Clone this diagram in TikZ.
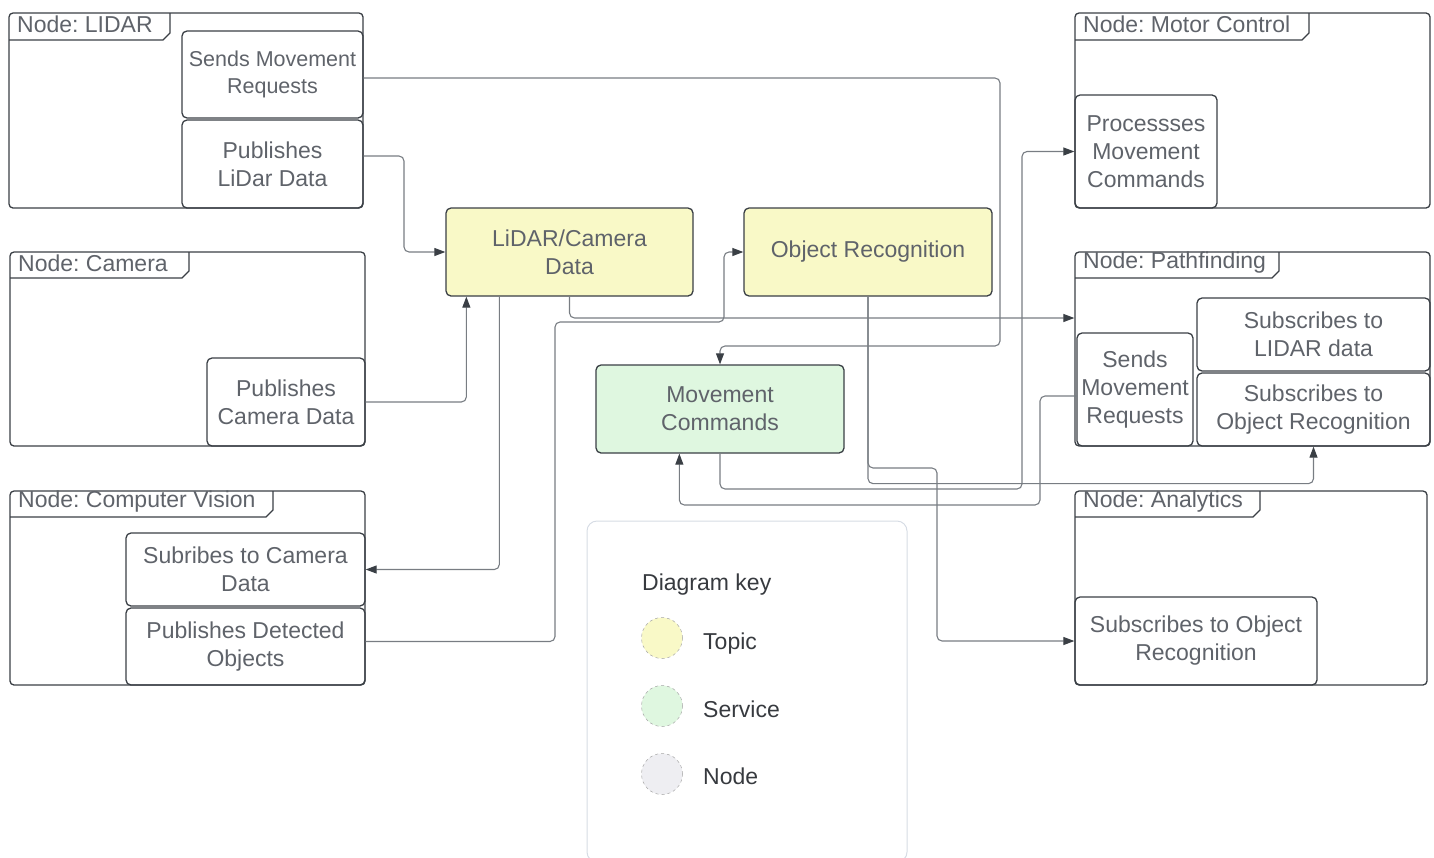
\documentclass[tikz,border=0pt]{standalone}
\usepackage{fontspec}
\setmainfont{Liberation Sans}
\usetikzlibrary{arrows.meta,calc,fit}
\frenchspacing
\definecolor{txt}{RGB}{95,99,106}
\definecolor{bord}{RGB}{58,63,69}
\definecolor{connc}{RGB}{120,125,131}
\definecolor{topicfill}{RGB}{249,249,199}
\definecolor{servfill}{RGB}{223,247,224}
\definecolor{nodefill}{RGB}{238,238,242}
\definecolor{keytxt}{RGB}{55,58,63}
\definecolor{keyline}{RGB}{214,220,228}
\tikzset{
  boxtext/.style={text=txt, font=\fontsize{23}{28}\selectfont},
  box/.style={draw=bord, line width=1.3pt, rounded corners=5pt, inner sep=0pt, align=center, boxtext},
  container/.style={draw=bord, line width=1.3pt, rounded corners=4pt, inner sep=0pt},
  tabline/.style={draw=bord, line width=1.3pt},
  tablabel/.style={boxtext, inner sep=0pt, anchor=west},
  topic/.style={box, fill=topicfill},
  service/.style={box, fill=servfill},
  link/.style={draw=connc, line width=1.1pt, rounded corners=5pt, -{Triangle[length=11pt,width=8pt,color=bord]}},
  keybox/.style={draw=keyline, line width=1pt, rounded corners=10pt, inner sep=0pt},
  keydot/.style={circle, minimum size=41pt, inner sep=0pt, draw=gray!70, dashed, line width=0.5pt},
  keylabel/.style={text=keytxt, font=\fontsize{23}{28}\selectfont, inner sep=0pt, anchor=base west}
}
\newcommand{\tabpath}[4]{\draw[tabline] (#1,#4) -- (#3-7,#4) -- (#3,#4-7) -- (#3,#2);}
\begin{document}
\begin{tikzpicture}[x=1pt,y=-1pt]
\useasboundingbox (0,0) rectangle (1434,857);

% containers
\node[container, fit={(9,13) (363,208)}] (lidar) {};
\node[container, fit={(10,252) (365,446)}] (camera) {};
\node[container, fit={(10,491) (365,685)}] (cv) {};
\node[container, fit={(1075,13) (1430,208)}] (motor) {};
\node[container, fit={(1075,252) (1430,446)}] (path) {};
\node[container, fit={(1075,491) (1427,685)}] (analytics) {};

% tabs
\tabpath{9}{13}{170}{40}
\tabpath{10}{252}{189}{278}
\tabpath{10}{491}{273}{517}
\tabpath{1075}{13}{1309}{40}
\tabpath{1075}{252}{1279}{278}
\tabpath{1075}{491}{1260}{517}
\node[tablabel] (tlidar) at (17,24) {Node: LIDAR};
\node[tablabel] (tcamera) at (18,263) {Node: Camera};
\node[tablabel] (tcv) at (18,502) {Node: Computer Vision};
\node[tablabel] (tmotor) at (1083,24) {Node: Motor Control};
\node[tablabel] (tpath) at (1083,263) {Node: Pathfinding};
\node[tablabel] (tanalytics) at (1083,502) {Node: Analytics};

% sub boxes
\node[box, fit={(182,31) (363,118)}] (lsend) {};
\node[boxtext, align=center, font=\fontsize{21.5}{27}\selectfont] (lsendtxt) at (lsend.center) {Sends Movement\\Requests};
\node[box, fit={(182,120) (363,208)}] (lpub) {};
\node[boxtext, align=center] (lpubtxt) at (lpub.center) {Publishes\\LiDar Data};
\node[box, fit={(207,358) (365,446)}] (cpub) {};
\node[boxtext, align=center] (cpubtxt) at (cpub.center) {Publishes\\Camera Data};
\node[box, fit={(126,533) (365,606)}] (cvsub) {};
\node[boxtext, align=center] (cvsubtxt) at (cvsub.center) {Subribes to Camera\\Data};
\node[box, fit={(126,608) (365,685)}] (cvpub) {};
\node[boxtext, align=center] (cvpubtxt) at (cvpub.center) {Publishes Detected\\Objects};
\node[box, fit={(1075,95) (1217,208)}] (mproc) {};
\node[boxtext, align=center] (mproctxt) at (mproc.center) {Processses\\Movement\\Commands};
\node[box, fit={(1077,333) (1193,446)}] (psend) {};
\node[boxtext, align=center] (psendtxt) at (psend.center) {Sends\\Movement\\Requests};
\node[box, fit={(1197,298) (1430,371)}] (psublidar) {};
\node[boxtext, align=center] (psublidartxt) at (psublidar.center) {Subscribes to\\LIDAR data};
\node[box, fit={(1197,373) (1430,446)}] (psubobj) {};
\node[boxtext, align=center] (psubobjtxt) at (psubobj.center) {Subscribes to\\Object Recognition};
\node[box, fit={(1075,597) (1317,685)}] (asub) {};
\node[boxtext, align=center] (asubtxt) at (asub.center) {Subscribes to Object\\Recognition};

% topics / services
\node[topic, fit={(446,208) (693,296)}] (lcd) {};
\node[boxtext, align=center] (lcdtxt) at (lcd.center) {LiDAR/Camera\\Data};
\node[topic, fit={(744,208) (992,296)}] (orec) {};
\node[boxtext, align=center] (orectxt) at (orec.center) {Object Recognition};
\node[service, fit={(596,365) (844,453)}] (mc) {};
\node[boxtext, align=center] (mctxt) at (mc.center) {Movement\\Commands};

% connectors
\draw[link] ($(lsend.east)+(0,3.5)$) -| (1000,346) -| (mc.north);
\draw[link] ($(lpub.east)+(0,-8)$) -| (404,252) -- (lcd.west);
\draw[link] (cpub.east) -| ($(lcd.south west)+(21,0)$);
\draw[link] ($(lcd.south west)+(54,0)$) |- (cvsub.east);
\draw[link] (lcd.south) |- ($(path.west)+(0,-31)$);
\draw[link] ($(cvpub.east)+(0,-5)$) -| (555,322) -| (724,252) -- (orec.west);
\draw[link] (orec.south) |- ($(psubobj.south)+(0,37)$) -- (psubobj.south);
\draw[link] (orec.south) |- (937,468) |- (asub.west);
\draw[link] (mc.south) |- (1022,489) |- (mproc.west);
\draw[link] ($(psend.west)+(0,6.5)$) -| (1040,505) -| ($(mc.south west)+(84,0)$);

% legend
\node[keybox, fit={(587,521) (907,862)}] (key) {};
\node[keylabel] (keytitle) at (642,590) {Diagram key};
\node[keydot, fill=topicfill] (kt) at (662,638) {};
\node[keydot, fill=servfill] (ks) at (662,706) {};
\node[keydot, fill=nodefill] (kn) at (662,774) {};
\node[keylabel] (ktl) at (703,649) {Topic};
\node[keylabel] (ksl) at (703,717) {Service};
\node[keylabel] (knl) at (703,784) {Node};
\end{tikzpicture}
\end{document}
